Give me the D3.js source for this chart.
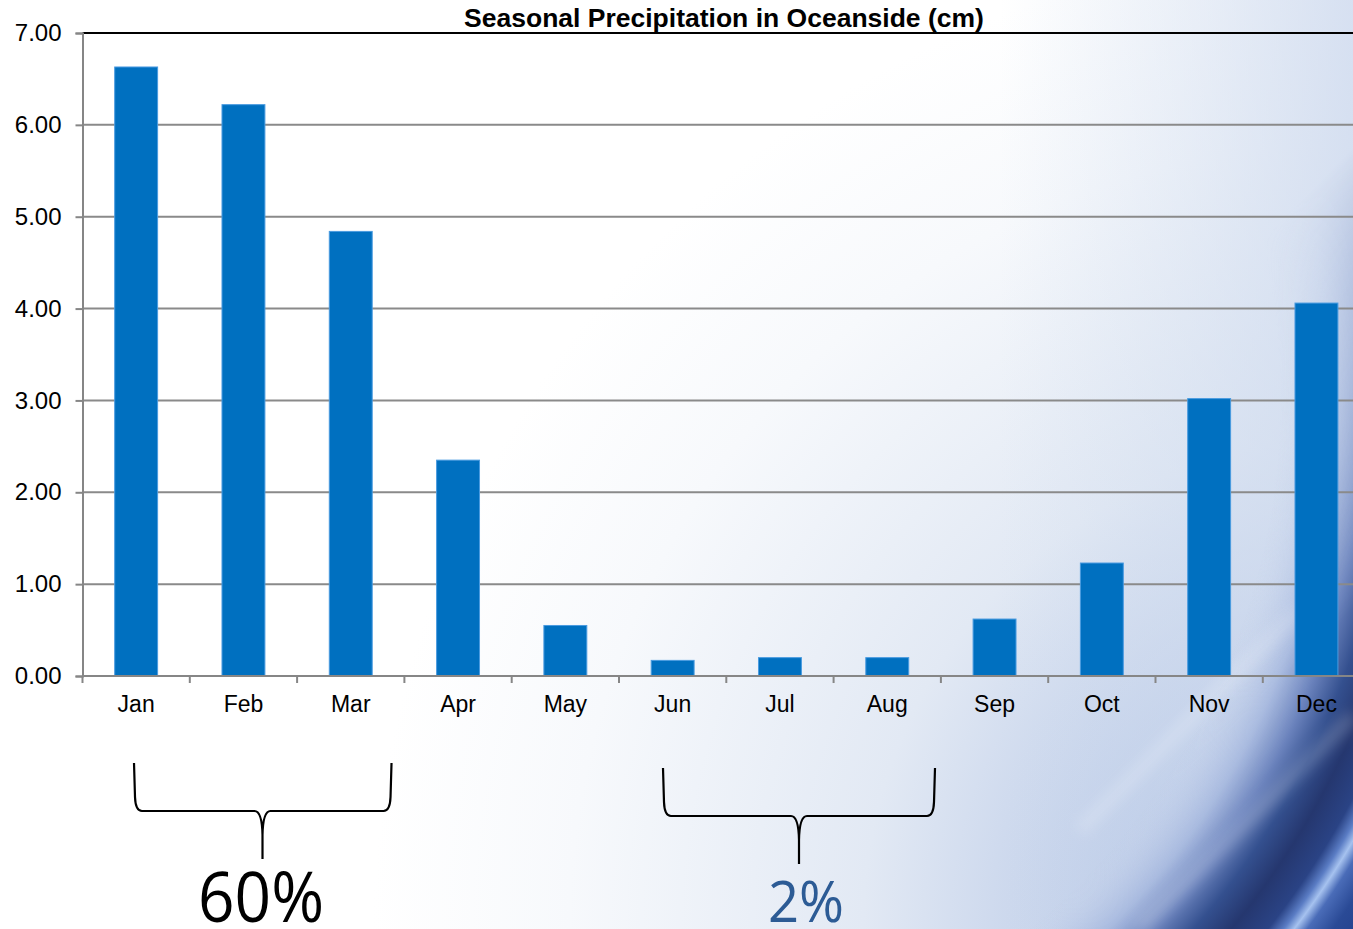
<!DOCTYPE html>
<html>
<head>
<meta charset="utf-8">
<script src="https://cdn.jsdelivr.net/npm/d3@7/dist/d3.min.js"></script>
<style>
  html, body { margin: 0; padding: 0; background: #fff; }
  svg { display: block; }
</style>
</head>
<body>
<svg id="chart" width="1353" height="929"></svg>
<script>
// Monthly precipitation, Oceanside (cm)
const months = ["Jan", "Feb", "Mar", "Apr", "May", "Jun", "Jul", "Aug", "Sep", "Oct", "Nov", "Dec"];
const precip = [6.63, 6.22, 4.84, 2.35, 0.55, 0.17, 0.20, 0.20, 0.62, 1.23, 3.02, 4.06];
const yTicks = [0, 1, 2, 3, 4, 5, 6, 7];
const chartTitle = "Seasonal Precipitation in Oceanside (cm)";
// Seasonal share annotations (wet winter vs. dry summer)
const seasonFrom = ["Jan", "Jun"];
const seasonTo = ["Mar", "Aug"];
const seasonShare = ["60%", "2%"];

(function () {
const W = 1353, H = 929;
const svg = d3.select("#chart");
const defs = svg.append("defs");

function stops(grad, list) {
  list.forEach(([o, c, a]) => grad.append("stop").attr("offset", o)
    .attr("stop-color", c).attr("stop-opacity", a === undefined ? 1 : a));
}

// ---------- background ----------
// soft blue haze rising from the lower-right corner
const haze = defs.append("radialGradient").attr("id", "haze")
  .attr("gradientUnits", "userSpaceOnUse").attr("cx", 1353).attr("cy", 929).attr("r", 980);
stops(haze, [[0, "#94abd8"], [0.22, "#b9c9e7"], [0.5, "#e2e9f4"], [0.8, "#f7f9fc"], [1, "#ffffff"]]);

const sideTint = defs.append("linearGradient").attr("id", "sideTint")
  .attr("gradientUnits", "userSpaceOnUse").attr("x1", 1000).attr("y1", 0).attr("x2", 1353).attr("y2", 0);
stops(sideTint, [[0, "#d2deef", 0], [1, "#cdd9ee", 0.8]]);

// dark curved swoosh in the corner
const swoosh = defs.append("radialGradient").attr("id", "swoosh")
  .attr("gradientUnits", "userSpaceOnUse").attr("cx", 596).attr("cy", 400).attr("r", 950);
stops(swoosh, [
  [0, "#ffffff", 0], [0.72, "#c8d4ec", 0], [0.775, "#a6b8de", 0.9], [0.81, "#6a82bc"],
  [0.84, "#34508f"], [0.87, "#25376f"], [0.9, "#2a4385"], [0.913, "#5a7cc4"],
  [0.922, "#a6c2ef"], [0.933, "#4a6cb8"], [0.955, "#2a4a96"], [1, "#1e3a86"]
]);

// keep the swoosh to the lower-right corner only
const fade = defs.append("linearGradient").attr("id", "fade")
  .attr("gradientUnits", "userSpaceOnUse").attr("x1", 950).attr("y1", 550).attr("x2", 1180).attr("y2", 780);
stops(fade, [[0, "#fff", 0], [1, "#fff", 1]]);
defs.append("mask").attr("id", "fadeMask")
  .append("rect").attr("width", W).attr("height", H).attr("fill", "url(#fade)");

const soft = defs.append("filter").attr("id", "soft")
  .attr("x", "-20%").attr("y", "-20%").attr("width", "140%").attr("height", "140%");
soft.append("feGaussianBlur").attr("stdDeviation", 7);

svg.append("rect").attr("width", W).attr("height", H).attr("fill", "url(#haze)");
svg.append("rect").attr("width", W).attr("height", H).attr("fill", "url(#sideTint)");
svg.append("rect").attr("width", W).attr("height", H).attr("fill", "url(#swoosh)")
  .attr("mask", "url(#fadeMask)");
// faint diagonal light streaks
svg.append("g").attr("filter", "url(#soft)").attr("opacity", 0.22)
  .selectAll("line").data([[1080, 830, 1300, 610], [1140, 929, 1353, 716]]).join("line")
  .attr("x1", d => d[0]).attr("y1", d => d[1]).attr("x2", d => d[2]).attr("y2", d => d[3])
  .attr("stroke", "#ffffff").attr("stroke-width", 12);

// ---------- scales ----------
const plotLeft = 82.5, plotTop = 33, plotBottom = 676, step = 107.3;
const x = d3.scaleBand().domain(months).range([plotLeft, plotLeft + step * months.length]);
const y = d3.scaleLinear().domain([0, 7]).range([plotBottom, plotTop]);
const bw = x.bandwidth();
const barW = bw * 0.4;
const labelFont = "'Liberation Sans', Arial, sans-serif";

// gridlines
svg.append("g").selectAll("line").data(yTicks.filter(v => v > 0 && v < 7)).join("line")
  .attr("x1", plotLeft).attr("x2", W).attr("y1", d => y(d)).attr("y2", d => y(d))
  .attr("stroke", "#8a8a8a").attr("stroke-width", 2);

// plot-area top border
svg.append("line").attr("x1", plotLeft).attr("x2", W).attr("y1", y(7)).attr("y2", y(7))
  .attr("stroke", "#000").attr("stroke-width", 2);

// bars
svg.append("g").selectAll("rect").data(months).join("rect")
  .attr("x", (m) => x(m) + (bw - barW) / 2)
  .attr("width", barW)
  .attr("y", (m, i) => y(precip[i]))
  .attr("height", (m, i) => y(0) - y(precip[i]))
  .attr("fill", "#0070c0")
  .attr("stroke", "#4a9be0").attr("stroke-width", 1);

// y axis
const yAxis = svg.append("g").attr("transform", `translate(${plotLeft},0)`)
  .call(d3.axisLeft(y).tickValues(yTicks).tickFormat(d3.format(".2f")).tickSize(7).tickPadding(14));
yAxis.select(".domain").attr("stroke", "#868686").attr("stroke-width", 2);
yAxis.selectAll(".tick line").attr("stroke", "#868686").attr("stroke-width", 2);
yAxis.selectAll(".tick text").attr("fill", "#000")
  .style("font-family", labelFont).style("font-size", "24px");

// x axis: month labels at band centres, ticks at band boundaries
const xAxis = svg.append("g").attr("transform", `translate(0,${plotBottom})`)
  .call(d3.axisBottom(x).tickSize(0).tickPadding(20));
xAxis.select(".domain").remove();
xAxis.selectAll(".tick text").attr("fill", "#000")
  .style("font-family", labelFont).style("font-size", "23px");
svg.append("line").attr("x1", plotLeft).attr("x2", W).attr("y1", plotBottom).attr("y2", plotBottom)
  .attr("stroke", "#868686").attr("stroke-width", 2);
svg.append("g").selectAll("line").data(months).join("line")
  .attr("x1", m => x(m)).attr("x2", m => x(m))
  .attr("y1", plotBottom).attr("y2", plotBottom + 7)
  .attr("stroke", "#868686").attr("stroke-width", 2);

// title
svg.append("text").attr("x", 724).attr("y", 27).attr("text-anchor", "middle")
  .style("font-family", labelFont).style("font-size", "26.5px")
  .style("font-weight", "bold").text(chartTitle);

// ---------- seasonal braces ----------
function brace(x0, x1, yTop, yBar, yTip, xm) {
  return `M${x0},${yTop} L${x0 + 1},${yBar - 14} Q${x0 + 1.5},${yBar} ${x0 + 8},${yBar}` +
    ` L${xm - 8},${yBar} Q${xm - 0.5},${yBar} ${xm},${yBar + 24} L${xm},${yTip}` +
    ` M${xm},${yBar + 24} Q${xm + 0.5},${yBar} ${xm + 8},${yBar}` +
    ` L${x1 - 8},${yBar} Q${x1 - 1.5},${yBar} ${x1 - 1},${yBar - 14} L${x1},${yTop}`;
}
const braceLayout = [
  { a: 0.48, b: 0.88, yTop: 763, yBar: 811, yTip: 859, mid: 262.5, textX: 261, size: 69, len: 126, color: "#000" },
  { a: 0.41, b: 0.945, yTop: 768, yBar: 816, yTip: 864, mid: 799, textX: 806, size: 56, len: 76, color: "#2c5b95" }
];
seasonShare.forEach((label, i) => {
  const L = braceLayout[i];
  const x0 = x(seasonFrom[i]) + L.a * bw;
  const x1 = x(seasonTo[i]) + L.b * bw;
  svg.append("path").attr("d", brace(x0, x1, L.yTop, L.yBar, L.yTip, L.mid))
    .attr("fill", "none").attr("stroke", "#000").attr("stroke-width", 2.2);
  svg.append("text").attr("x", L.textX).attr("y", 922).attr("text-anchor", "middle")
    .attr("fill", L.color)
    .attr("textLength", L.len).attr("lengthAdjust", "spacingAndGlyphs")
    .style("font-family", "'Open Sans', 'Noto Sans', sans-serif").style("font-size", L.size + "px")
    .text(label);
});
})();
</script>
</body>
</html>
